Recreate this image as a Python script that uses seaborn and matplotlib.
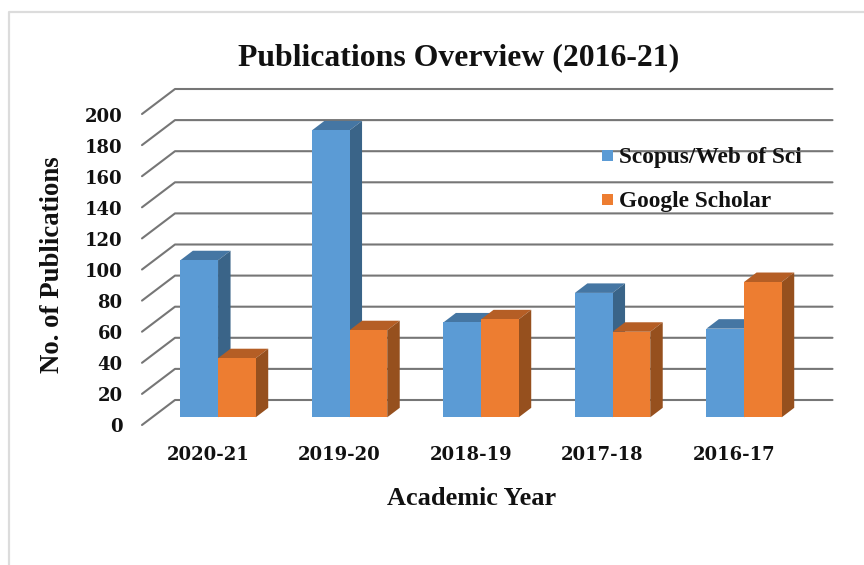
import pandas as pd
import matplotlib
matplotlib.use("Agg")
import matplotlib.pyplot as plt
from matplotlib.colors import to_hex
from matplotlib.patches import Polygon, Rectangle
from matplotlib.lines import Line2D
import seaborn as sns

# values
years = ["2020-21", "2019-20", "2018-19", "2017-18", "2016-17"]
scopus = [101, 184.5, 61, 80, 57]
scholar = [38, 56, 63, 55, 87]
y_ticks = list(range(0, 201, 20))

BLUE = "#5b9bd5"
ORANGE = "#ed7d31"
SHADES = {BLUE: ("#4576a3", "#3a6488"), ORANGE: ("#b55e25", "#96501e")}

sns.set_theme(style="white")
plt.rcParams["font.family"] = ["Liberation Serif", "DejaVu Serif"]
plt.rcParams["font.weight"] = "bold"

W, H = 864, 565
fig = plt.figure(figsize=(W / 100, H / 100), dpi=100)
fig.patch.set_facecolor("white")

# axes box = plane of the bar fronts, in pixels
left, right, bottom, top = 152.3, 809.8, 417.3, 106.3
ax = fig.add_axes([left / W, 1 - bottom / H, (right - left) / W, (bottom - top) / H])

df = pd.DataFrame({
    "year": years * 2,
    "value": scopus + scholar,
    "source": ["Scopus/Web of Sci"] * 5 + ["Google Scholar"] * 5,
})
sns.barplot(data=df, x="year", y="value", hue="source", order=years,
            palette=[BLUE, ORANGE], width=0.573, gap=0, saturation=1,
            linewidth=0, legend=False, ax=ax, zorder=5)
ax.set_xlim(-0.5, 4.5)
ax.set_ylim(0, 200)
ax.axis("off")

px_x = 5 / (right - left)
px_y = 200 / (bottom - top)

# chart border: only left and top show in the crop
fig.add_artist(Line2D([9 / W, 9 / W, 1], [0, 1 - 12 / H, 1 - 12 / H],
                      color="#dcdcdc", lw=1.6))

# back wall and floor edge lines
back_x, back_y = 22.7 * px_x, 17.3 * px_y
front_x, front_y = -10.3 * px_x, -7.7 * px_y
for v in y_ticks:
    ax.plot([-0.5 + front_x, -0.5 + back_x, 4.5 + back_x],
            [v + front_y, v + back_y, v + back_y],
            color="#767676", lw=1.5, clip_on=False, zorder=1)

# top and side faces of the bars
depth_x, depth_y = 12.5 * px_x, 9.5 * px_y
bars = sorted(ax.patches, key=lambda b: b.get_x())
for bar in bars:
    x0, w, h = bar.get_x(), bar.get_width(), bar.get_height()
    x1 = x0 + w
    colour = to_hex(bar.get_facecolor())
    top_c, side_c = SHADES[colour]
    ax.add_patch(Polygon([(x0, h), (x1, h), (x1 + depth_x, h + depth_y), (x0 + depth_x, h + depth_y)],
                         facecolor=top_c, edgecolor="none", clip_on=False, zorder=5))
    ax.add_patch(Polygon([(x1, 0), (x1 + depth_x, depth_y), (x1 + depth_x, h + depth_y), (x1, h)],
                         facecolor=side_c, edgecolor="none", clip_on=False, zorder=5))
    bar.set_clip_on(False)
    # orange fronts sit over the blue side faces
    bar.set_zorder(8 if colour == ORANGE else 6)

# tick labels, placed by baseline
digit_font = ["DejaVu Serif"]
for v in y_ticks:
    fig.text(122.7 / W, 1 - (432.3 - v * 1.55) / H, str(v), ha="right", va="baseline",
             fontsize=13, color="#111111", family=digit_font)
for i, year in enumerate(years):
    fig.text((218 - 10 + i * 131.5) / W, 1 - 460 / H, year, ha="center", va="baseline",
             fontsize=13, color="#111111", family=digit_font)

fig.text(459 / W, 1 - 65.7 / H, "Publications Overview (2016-21)", ha="center", va="baseline",
         fontsize=22.9, color="#111111")
fig.text(472 / W, 1 - 505.3 / H, "Academic Year", ha="center", va="baseline",
         fontsize=18.9, color="#111111")
fig.text(59.3 / W, 1 - 265 / H, "No. of Publications", ha="center", va="baseline",
         rotation=90, rotation_mode="anchor", fontsize=19.3, color="#111111")

# legend
for name, colour, ypos, base in [("Scopus/Web of Sci", BLUE, 156, 162.7),
                                 ("Google Scholar", ORANGE, 199.5, 207.3)]:
    fig.add_artist(Rectangle((602 / W, 1 - (ypos + 5.5) / H), 11 / W, 11 / H,
                             facecolor=colour, edgecolor="none", transform=fig.transFigure, zorder=10))
    fig.text(619 / W, 1 - base / H, name, ha="left", va="baseline", fontsize=16.8,
             color="#111111", zorder=10)

fig.savefig("out.png", dpi=100)
